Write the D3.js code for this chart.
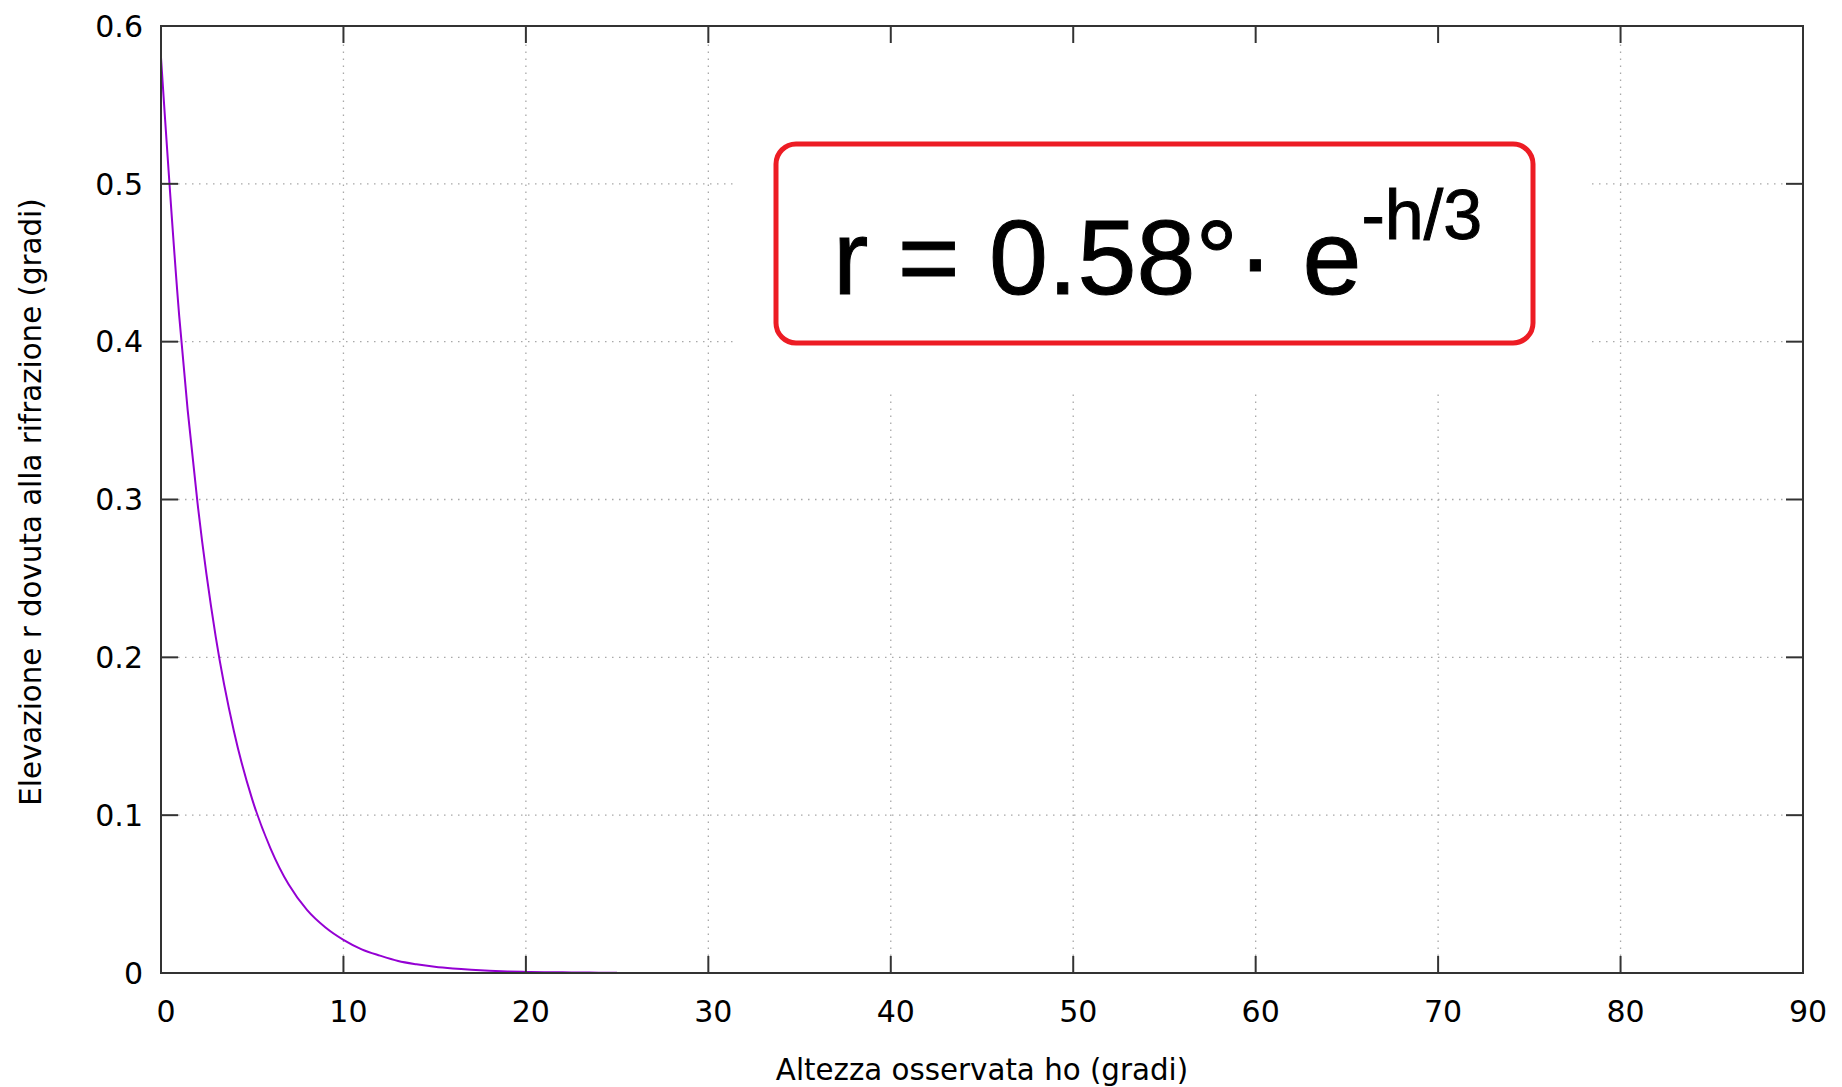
<!DOCTYPE html>
<html>
<head>
<meta charset="utf-8">
<script src="https://cdn.jsdelivr.net/npm/d3@7"></script>
<style>
  html, body { margin: 0; padding: 0; background: #fff; }
  svg { display: block; }
  .tick-label { font-family: "DejaVu Sans", sans-serif; font-size: 30px; fill: #000; }
  .axis-title { font-family: "DejaVu Sans", sans-serif; font-size: 29.3px; fill: #000; }
  .formula { font-family: "Liberation Sans", Arial, sans-serif; fill: #000; }
</style>
</head>
<body>
<div id="chart"></div>
<script>
const altitudes = [0, 1, 2, 3, 4, 5, 6, 7, 8, 9, 10, 11, 12, 13, 14, 15, 16, 17, 18, 19, 20, 21, 22, 23, 24, 25];
const refraction = [0.580, 0.416, 0.298, 0.213, 0.153, 0.110, 0.079, 0.056, 0.040, 0.029,
                    0.021, 0.015, 0.011, 0.0076, 0.0055, 0.0039, 0.0028, 0.0020, 0.0014, 0.0010,
                    0.0007, 0.0005, 0.0004, 0.0003, 0.0002, 0.0001];
const xTicks = [0, 10, 20, 30, 40, 50, 60, 70, 80, 90];
const yTicks = [0, 0.1, 0.2, 0.3, 0.4, 0.5, 0.6];
const xTitle = "Altezza osservata ho (gradi)";
const yTitle = "Elevazione r dovuta alla rifrazione (gradi)";

const W = 1842, H = 1087;
const plot = { left: 161, right: 1803, top: 26, bottom: 973 };
const TICK = 17;

const svg = d3.select("#chart").append("svg")
    .attr("width", W).attr("height", H)
    .attr("viewBox", `0 0 ${W} ${H}`);

const x = d3.scaleLinear().domain([0, 90]).range([plot.left, plot.right]);
const y = d3.scaleLinear().domain([0, 0.6]).range([plot.bottom, plot.top]);

/* ---- grid (dotted) ---- */
const grid = svg.append("g").attr("class", "grid")
    .attr("stroke", "#a8a8a8").attr("stroke-width", 1.3)
    .attr("stroke-dasharray", "1.5,5.5");
grid.selectAll("line.gx").data(xTicks.slice(1, -1)).enter().append("line")
    .attr("x1", d => x(d)).attr("x2", d => x(d))
    .attr("y1", plot.bottom - TICK).attr("y2", plot.top + TICK);
grid.selectAll("line.gy").data(yTicks.slice(1, -1)).enter().append("line")
    .attr("y1", d => y(d)).attr("y2", d => y(d))
    .attr("x1", plot.left + TICK).attr("x2", plot.right - TICK);

// opaque background behind the formula label hides the grid there
svg.append("rect")
    .attr("x", 733).attr("y", plot.top)
    .attr("width", 1592 - 733).attr("height", 394 - plot.top)
    .attr("fill", "#fff");

/* ---- curve ---- */
const line = d3.line()
    .x((d, i) => x(altitudes[i]))
    .y(d => y(d))
    .curve(d3.curveMonotoneX);
svg.append("path")
    .datum(refraction)
    .attr("d", line)
    .attr("fill", "none")
    .attr("stroke", "#9400d3")
    .attr("stroke-width", 2);

/* ---- border and mirrored ticks ---- */
const axisCol = "#333";
svg.append("rect")
    .attr("x", plot.left).attr("y", plot.top)
    .attr("width", plot.right - plot.left).attr("height", plot.bottom - plot.top)
    .attr("fill", "none").attr("stroke", axisCol).attr("stroke-width", 2);

const ticks = svg.append("g").attr("stroke", axisCol).attr("stroke-width", 2);
xTicks.slice(1, -1).forEach(d => {
    ticks.append("line").attr("x1", x(d)).attr("x2", x(d))
        .attr("y1", plot.bottom).attr("y2", plot.bottom - TICK);
    ticks.append("line").attr("x1", x(d)).attr("x2", x(d))
        .attr("y1", plot.top).attr("y2", plot.top + TICK);
});
yTicks.slice(1, -1).forEach(d => {
    ticks.append("line").attr("y1", y(d)).attr("y2", y(d))
        .attr("x1", plot.left).attr("x2", plot.left + TICK);
    ticks.append("line").attr("y1", y(d)).attr("y2", y(d))
        .attr("x1", plot.right).attr("x2", plot.right - TICK);
});

/* ---- tick labels ---- */
svg.append("g").selectAll("text").data(xTicks).enter().append("text")
    .attr("class", "tick-label")
    .attr("x", d => x(d) + 5)
    .attr("y", 1022)
    .attr("text-anchor", "middle")
    .text(d => d);

svg.append("g").selectAll("text").data(yTicks).enter().append("text")
    .attr("class", "tick-label")
    .attr("x", 143)
    .attr("y", d => y(d))
    .attr("dy", "0.36em")
    .attr("text-anchor", "end")
    .text(d => d3.format("~g")(d));

/* ---- axis titles ---- */
svg.append("text")
    .attr("class", "axis-title")
    .attr("x", (plot.left + plot.right) / 2)
    .attr("y", 1080)
    .attr("text-anchor", "middle")
    .text(xTitle);

svg.append("text")
    .attr("class", "axis-title")
    .attr("transform", `translate(41, 502) rotate(-90)`)
    .attr("text-anchor", "middle")
    .text(yTitle);

/* ---- formula label ---- */
svg.append("rect")
    .attr("x", 776).attr("y", 144)
    .attr("width", 1533 - 776).attr("height", 343 - 144)
    .attr("rx", 20).attr("ry", 20)
    .attr("fill", "#fff")
    .attr("stroke", "#ed1c24").attr("stroke-width", 5);

const f = svg.append("text")
    .attr("class", "formula")
    .attr("x", 833).attr("y", 294)
    .style("font-size", "106px")
    .style("stroke", "#000").style("stroke-width", 1);
f.append("tspan").text("r = 0.58°· e");
f.append("tspan").attr("dy", -55).style("font-size", "70px").text("-h/3");
</script>
</body>
</html>
